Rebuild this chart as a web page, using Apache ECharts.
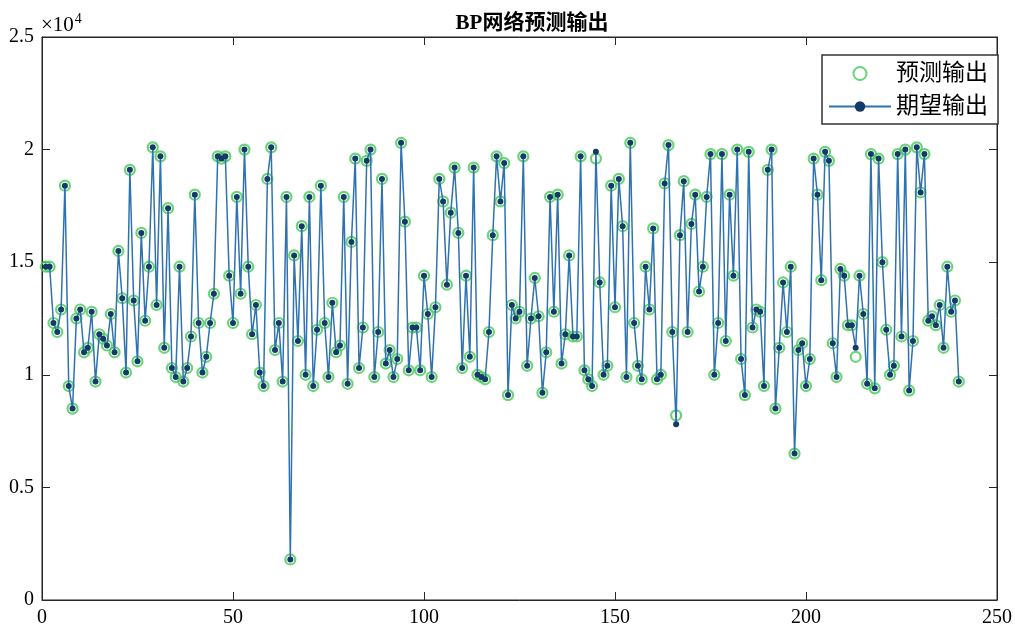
<!DOCTYPE html>
<html>
<head>
<meta charset="UTF-8">
<title>BP网络预测输出</title>
<script src="https://cdn.jsdelivr.net/npm/echarts@6/dist/echarts.min.js"></script>
<style>html,body{margin:0;background:#fff;}</style>
</head>
<body>
<div id="main" style="width:1015px;height:635px;"></div>
<script type="text/javascript">
// values in units of 10^4, sample 1..240
var expected = [
  1.48,1.48,1.23,1.19,1.29,1.84,0.95,0.85,1.25,1.29,
  1.10,1.12,1.28,0.97,1.18,1.16,1.13,1.27,1.10,1.55,
  1.34,1.01,1.91,1.33,1.06,1.63,1.24,1.48,2.01,1.31,
  1.97,1.12,1.74,1.03,0.99,1.48,0.97,1.03,1.17,1.80,
  1.23,1.01,1.08,1.23,1.36,1.97,1.96,1.97,1.44,1.23,
  1.79,1.36,2.00,1.48,1.18,1.31,1.01,0.95,1.87,2.01,
  1.11,1.23,0.97,1.79,0.18,1.53,1.15,1.66,1.00,1.79,
  0.95,1.20,1.84,1.23,0.99,1.32,1.10,1.13,1.79,0.96,
  1.59,1.96,1.03,1.21,1.95,2.00,0.99,1.19,1.87,1.05,
  1.11,0.99,1.07,2.03,1.68,1.02,1.21,1.21,1.02,1.44,
  1.27,0.99,1.30,1.87,1.77,1.40,1.72,1.92,1.63,1.03,
  1.44,1.08,1.92,1.00,0.99,0.98,1.19,1.62,1.97,1.77,
  1.94,0.91,1.31,1.25,1.28,1.97,1.04,1.25,1.43,1.26,
  0.92,1.10,1.79,1.28,1.80,1.05,1.18,1.53,1.17,1.17,
  1.97,1.02,0.98,0.95,1.99,1.41,1.00,1.04,1.84,1.30,
  1.87,1.66,0.99,2.03,1.23,1.04,0.98,1.48,1.29,1.65,
  0.98,1.00,1.85,2.02,1.19,0.78,1.62,1.86,1.19,1.67,
  1.80,1.37,1.48,1.79,1.98,1.00,1.23,1.98,1.15,1.80,
  1.44,2.00,1.07,0.91,1.99,1.21,1.29,1.28,0.95,1.91,
  2.00,0.85,1.12,1.41,1.19,1.48,0.65,1.11,1.14,0.95,
  1.07,1.96,1.80,1.42,1.99,1.95,1.14,0.99,1.47,1.44,
  1.22,1.22,1.12,1.44,1.27,0.96,1.98,0.94,1.96,1.50,
  1.20,1.00,1.04,1.98,1.17,2.00,0.93,1.15,2.01,1.81,
  1.98,1.24,1.26,1.22,1.31,1.12,1.48,1.28,1.33,0.97
];
var predicted = [
  1.48,1.48,1.23,1.19,1.29,1.84,0.95,0.85,1.25,1.29,
  1.10,1.12,1.28,0.97,1.18,1.16,1.13,1.27,1.10,1.55,
  1.34,1.01,1.91,1.33,1.06,1.63,1.24,1.48,2.01,1.31,
  1.97,1.12,1.74,1.03,0.99,1.48,0.97,1.03,1.17,1.80,
  1.23,1.01,1.08,1.23,1.36,1.97,1.96,1.97,1.44,1.23,
  1.79,1.36,2.00,1.48,1.18,1.31,1.01,0.95,1.87,2.01,
  1.11,1.23,0.97,1.79,0.18,1.53,1.15,1.66,1.00,1.79,
  0.95,1.20,1.84,1.23,0.99,1.32,1.10,1.13,1.79,0.96,
  1.59,1.96,1.03,1.21,1.95,2.00,0.99,1.19,1.87,1.05,
  1.11,0.99,1.07,2.03,1.68,1.02,1.21,1.21,1.02,1.44,
  1.27,0.99,1.30,1.87,1.77,1.40,1.72,1.92,1.63,1.03,
  1.44,1.08,1.92,1.00,0.99,0.98,1.19,1.62,1.97,1.77,
  1.94,0.91,1.31,1.25,1.28,1.97,1.04,1.25,1.43,1.26,
  0.92,1.10,1.79,1.28,1.80,1.05,1.18,1.53,1.17,1.17,
  1.97,1.02,0.98,0.95,1.96,1.41,1.00,1.04,1.84,1.30,
  1.87,1.66,0.99,2.03,1.23,1.04,0.98,1.48,1.29,1.65,
  0.98,1.00,1.85,2.02,1.19,0.82,1.62,1.86,1.19,1.67,
  1.80,1.37,1.48,1.79,1.98,1.00,1.23,1.98,1.15,1.80,
  1.44,2.00,1.07,0.91,1.99,1.21,1.29,1.28,0.95,1.91,
  2.00,0.85,1.12,1.41,1.19,1.48,0.65,1.11,1.14,0.95,
  1.07,1.96,1.80,1.42,1.99,1.95,1.14,0.99,1.47,1.44,
  1.22,1.22,1.08,1.44,1.27,0.96,1.98,0.94,1.96,1.50,
  1.20,1.00,1.04,1.98,1.17,2.00,0.93,1.15,2.01,1.81,
  1.98,1.24,1.26,1.22,1.31,1.12,1.48,1.28,1.33,0.97
];
var xTicks = [0, 250, 50];   // min, max, step
var yTicks = [0, 2.5, 0.5];

var font = '"Liberation Serif", "Noto Sans CJK SC", serif';
var axisColor = '#262626';

function pairs(arr) {
    return arr.map(function (v, i) { return [i + 1, v]; });
}

function makeAxis(ticks, pos, showLabel) {
    return {
        type: 'value',
        position: pos,
        min: ticks[0],
        max: ticks[1],
        interval: ticks[2],
        axisLine: { onZero: false, lineStyle: { color: axisColor, width: 1 } },
        axisTick: { inside: true, length: 8, lineStyle: { color: axisColor } },
        axisLabel: { show: showLabel, fontFamily: font, fontSize: 20, color: '#000', margin: 8 },
        splitLine: { show: false }
    };
}

var myChart = echarts.init(document.getElementById('main'));
var option = {
    backgroundColor: '#fff',
    animation: false,
    title: {
        text: 'BP网络预测输出',
        left: 527,
        textAlign: 'center',
        top: 8,
        textStyle: { fontFamily: font, fontSize: 21, fontWeight: 'bold', color: '#000' }
    },
    graphic: [{
        type: 'text',
        left: 41,
        top: 12,
        style: {
            text: '×10{s|4}',
            fontFamily: font,
            fontSize: 21,
            fill: '#000',
            rich: { s: { fontSize: 14, verticalAlign: 'top', padding: [0, 0, 12, 1], fontFamily: font } }
        }
    }],
    grid: {
        left: 42, right: 15, top: 37, bottom: 35,
        show: true,
        borderColor: axisColor,
        borderWidth: 1,
        backgroundColor: '#fff'
    },
    legend: {
        right: 17,
        top: 55,
        orient: 'vertical',
        itemGap: 10,
        itemWidth: 62,
        itemHeight: 13,
        padding: [7, 10, 6, 6],
        borderColor: '#333',
        borderWidth: 1.5,
        backgroundColor: '#fff',
        textStyle: { fontFamily: font, fontSize: 23, color: '#000' },
        data: ['预测输出', '期望输出']
    },
    xAxis: [makeAxis(xTicks, 'bottom', true), makeAxis(xTicks, 'top', false)],
    yAxis: [makeAxis(yTicks, 'left', true), makeAxis(yTicks, 'right', false)],
    series: [{
            name: '预测输出',
            type: 'scatter',
            symbol: 'circle',
            symbolSize: 10,
            z: 2,
            itemStyle: {
                color: 'rgba(255,255,255,0)',
                borderColor: '#45c95a',
                borderWidth: 2.2
            },
            data: pairs(predicted)
        },
        {
            name: '期望输出',
            type: 'line',
            symbol: 'circle',
            symbolSize: 6,
            showAllSymbol: true,
            z: 3,
            lineStyle: { color: '#2f72b0', width: 1.5 },
            itemStyle: { color: '#163a66' },
            data: pairs(expected)
        }
    ]
};
myChart.setOption(option);
</script>
</body>
</html>
